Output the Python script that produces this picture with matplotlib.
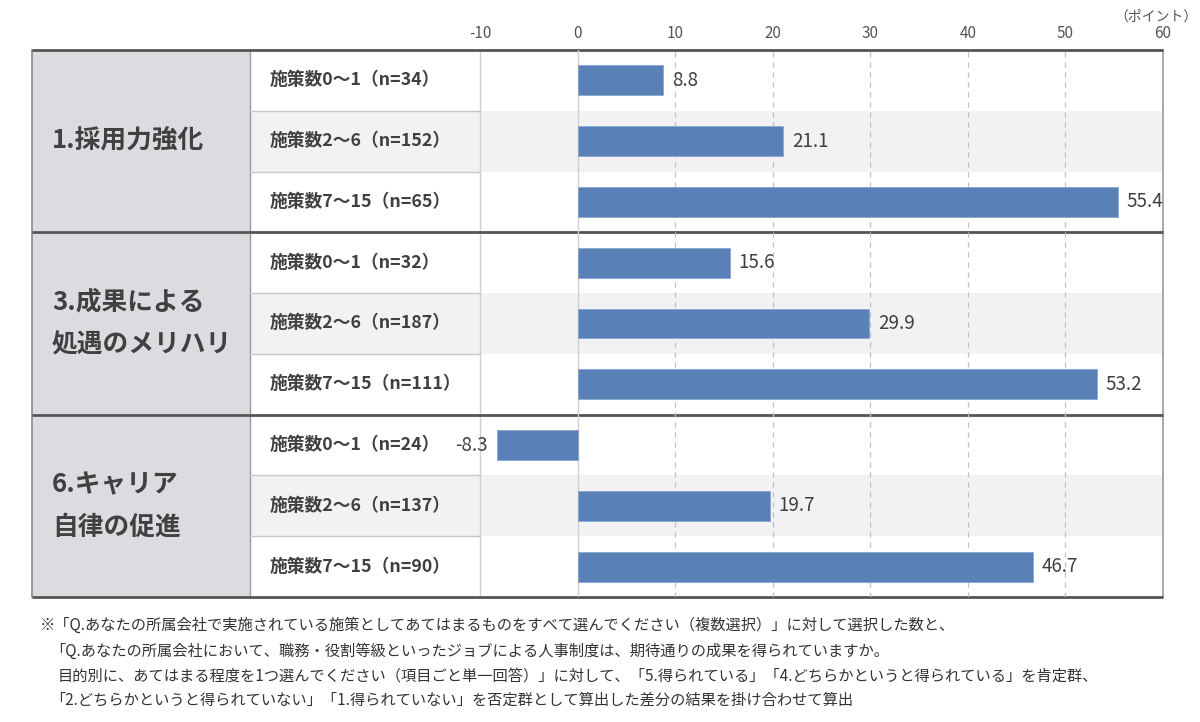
import numpy as np
import matplotlib.pyplot as plt
from matplotlib.patches import Rectangle

plt.rcParams['font.family'] = ['Noto Sans CJK JP', 'DejaVu Sans']

groups = ['1.採用力強化', '3.成果による\n処遇のメリハリ', '6.キャリア\n自律の促進']
bands = ['施策数0～1', '施策数2～6', '施策数7～15']
n_counts = [[34, 152, 65], [32, 187, 111], [24, 137, 90]]
values = [[8.8, 21.1, 55.4], [15.6, 29.9, 53.2], [-8.3, 19.7, 46.7]]
ticks = [-10, 0, 10, 20, 30, 40, 50, 60]

notes = [
    '※「Q.あなたの所属会社で実施されている施策としてあてはまるものをすべて選んでください（複数選択）」に対して選択した数と、',
    '「Q.あなたの所属会社において、職務・役割等級といったジョブによる人事制度は、期待通りの成果を得られていますか。',
    '目的別に、あてはまる程度を1つ選んでください（項目ごと単一回答）」に対して、「5.得られている」「4.どちらかというと得られている」を肯定群、',
    '「2.どちらかというと得られていない」「1.得られていない」を否定群として算出した差分の結果を掛け合わせて算出',
]

W, H = 1200, 722
x_tab, x_lab, x_chart, x_right = 32, 250, 480, 1163
y_top, y_bot = 50, 597
n_rows = 9
row_h = (y_bot - y_top) / n_rows

fig = plt.figure(figsize=(12, 7.22), dpi=100)
bg = fig.add_axes([0, 0, 1, 1], zorder=0)
bg.set_xlim(0, W)
bg.set_ylim(H, 0)
bg.axis('off')

dark = '#404040'

# row shading for middle row of each group
for g in range(3):
    r = g * 3 + 1
    bg.add_patch(Rectangle((x_lab, y_top + r * row_h), x_right - x_lab, row_h,
                           facecolor='#f2f1f4', edgecolor='none'))

# group column
bg.add_patch(Rectangle((x_tab, y_top), x_lab - x_tab, y_bot - y_top,
                       facecolor='#dcdbe0', edgecolor='none'))
bg.plot([x_tab, x_tab], [y_top, y_bot], color='#8a8a8a', lw=1.2)
bg.plot([x_lab, x_lab], [y_top, y_bot], color='#9a9a9a', lw=1.0)
bg.plot([x_chart, x_chart], [y_top, y_bot], color='#cfcfcf', lw=1.0)
bg.plot([x_right, x_right], [y_top, y_bot], color='#9a9a9a', lw=1.2)

for r in range(1, n_rows):
    if r % 3:
        y = y_top + r * row_h
        bg.plot([x_lab, x_chart], [y, y], color='#c8c8c8', lw=1.0)

for g in range(4):
    y = y_top + g * 3 * row_h
    bg.plot([x_tab, x_right], [y, y], color='#555555', lw=2.0, solid_capstyle='butt')

# text in table
for g, name in enumerate(groups):
    yc = y_top + (g * 3 + 1.5) * row_h
    bg.text(52, yc, name, ha='left', va='center', fontsize=18.5, fontweight='bold',
            color=dark, linespacing=1.75)
    for b, band in enumerate(bands):
        yr = y_top + (g * 3 + b + 0.5) * row_h
        bg.text(270, yr, f'{band}（n={n_counts[g][b]}）', ha='left', va='center',
                fontsize=12.8, fontweight='bold', color=dark)

# chart
ax = fig.add_axes([x_chart / W, 1 - y_bot / H, (x_right - x_chart) / W, (y_bot - y_top) / H],
                  zorder=1)
ax.patch.set_alpha(0)
ax.set_xlim(-10, 60)
ax.set_ylim(n_rows - 0.5, -0.5)

vals = np.array(values).ravel()
ypos = np.arange(n_rows)
ax.axvline(0, color='#cfcfcf', lw=1.0, zorder=1)
for t in ticks[2:-1]:
    ax.axvline(t, color='#bdbdbd', lw=0.9, ls=(0, (4, 4)), zorder=1)
ax.barh(ypos, vals, height=0.49, color='#5a80b8', edgecolor='#8aa6d0', lw=0.6, zorder=2)

for y, v in zip(ypos, vals):
    if v >= 0:
        ax.text(v + 0.9, y, f'{v:.1f}', ha='left', va='center', fontsize=13.5,
                color=dark, clip_on=False)
    else:
        ax.text(v - 0.9, y, f'{v:.1f}', ha='right', va='center', fontsize=13.5,
                color=dark, clip_on=False)

ax.set_xticks(ticks)
ax.set_xticklabels([str(t) for t in ticks])
ax.set_yticks([])
ax.tick_params(axis='x', top=True, labeltop=True, bottom=False, labelbottom=False,
               length=0, pad=6, labelsize=11, labelcolor='#555555')
for s in ax.spines.values():
    s.set_visible(False)

bg.text(1198, 17, '（ポイント）', ha='right', va='center', fontsize=10, color='#555555')

# footnotes
note_x = [40, 50, 58, 50]
note_y = [625, 651, 676, 700]
for tx, xx, yy in zip(notes, note_x, note_y):
    bg.text(xx, yy, tx, ha='left', va='center', fontsize=11, color='#333333')

fig.savefig('out.png', dpi=100)
